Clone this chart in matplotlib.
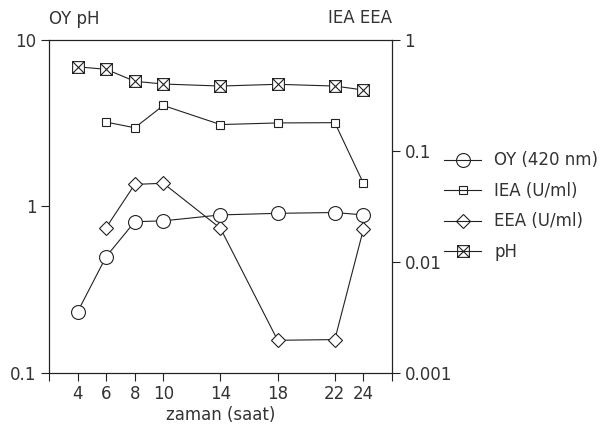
import numpy as np
import matplotlib
matplotlib.use('Agg')
import matplotlib.pyplot as plt
from matplotlib.path import Path
from matplotlib.lines import Line2D

# time points (hours)
zaman = [4, 6, 8, 10, 14, 18, 22, 24]
zaman_iea = [6, 8, 10, 14, 18, 22, 24]
zaman_eea = [6, 8, 10, 14, 18, 22, 24]

# left axis series
oy = [0.233, 0.50, 0.81, 0.82, 0.89, 0.91, 0.92, 0.89]
ph = [6.9, 6.67, 5.65, 5.44, 5.29, 5.42, 5.29, 5.01]

# right axis series
iea = [0.182, 0.162, 0.257, 0.173, 0.179, 0.18, 0.0512]
eea = [0.0204, 0.050, 0.0512, 0.0201, 0.00197, 0.002, 0.0197]

xticks = [2, 4, 6, 8, 10, 14, 18, 22, 24, 26]
xticklabels = ['', '4', '6', '8', '10', '14', '18', '22', '24', '']

plt.rcParams['font.family'] = ['DejaVu Sans']
plt.rcParams['font.size'] = 12

# square with an X inside
verts = [(-1, -1), (1, -1), (1, 1), (-1, 1), (-1, -1),
         (-1, -1), (1, 1), (-1, 1), (1, -1)]
codes = [Path.MOVETO, Path.LINETO, Path.LINETO, Path.LINETO, Path.CLOSEPOLY,
         Path.MOVETO, Path.LINETO, Path.MOVETO, Path.LINETO]
boxx = Path(verts, codes)

fig = plt.figure(figsize=(6.08, 4.32), dpi=100)
ax = fig.add_axes([0.0806, 0.1366, 0.5641, 0.7708])
ax2 = ax.twinx()

lw = 0.8
c = '#222222'
ax.plot(zaman, oy, color=c, lw=lw, marker='o', ms=10, mfc='white', mec=c, mew=lw, zorder=3)
ax.plot(zaman, ph, color=c, lw=lw, marker=boxx, ms=8.5, mfc='white', mec=c, mew=lw, zorder=3)
ax2.plot(zaman_iea, iea, color=c, lw=lw, marker='s', ms=5.5, mfc='white', mec=c, mew=lw)
ax2.plot(zaman_eea, eea, color=c, lw=lw, marker='D', ms=7, mfc='white', mec=c, mew=lw)

ax.set_yscale('log')
ax2.set_yscale('log')
ax.set_ylim(0.1, 10)
ax2.set_ylim(0.001, 1)
ax.set_xlim(2, 26)
ax.set_yticks([0.1, 1, 10])
ax.set_yticklabels(['0.1', '1', '10'])
ax2.set_yticks([0.001, 0.01, 0.1, 1])
ax2.set_yticklabels(['0.001', '0.01', '0.1', '1'])
ax.minorticks_off()
ax2.minorticks_off()
ax.set_xticks(xticks)
ax.set_xticklabels(xticklabels)

for a in (ax, ax2):
    for s in a.spines.values():
        s.set_linewidth(0.8)
        s.set_color(c)
    a.tick_params(direction='out', length=6, width=0.8, colors=c, labelcolor='#333333', pad=3)

ax.set_xlabel('zaman (saat)', color='#333333', labelpad=2)
ax.set_zorder(ax2.get_zorder() + 1)
ax.patch.set_visible(False)

fig.text(0.0806, 0.955, 'OY pH', ha='left', va='center', color='#333333')
fig.text(0.6447, 0.958, 'IEA EEA', ha='right', va='center', color='#333333')

handles = [
    Line2D([], [], color=c, lw=lw, marker='o', ms=10, mfc='none', mec=c, mew=lw),
    Line2D([], [], color=c, lw=lw, marker='s', ms=5.5, mfc='none', mec=c, mew=lw),
    Line2D([], [], color=c, lw=lw, marker='D', ms=7, mfc='none', mec=c, mew=lw),
    Line2D([], [], color=c, lw=lw, marker=boxx, ms=8.5, mfc='none', mec=c, mew=lw),
]
labels = ['OY (420 nm)', 'IEA (U/ml)', 'EEA (U/ml)', 'pH']
fig.legend(handles, labels, loc='upper left', bbox_to_anchor=(0.72, 0.665),
           frameon=False, handlelength=2.2, handletextpad=0.8, labelspacing=0.75,
           borderaxespad=0, labelcolor='#333333')

fig.savefig('out.png', dpi=100)
